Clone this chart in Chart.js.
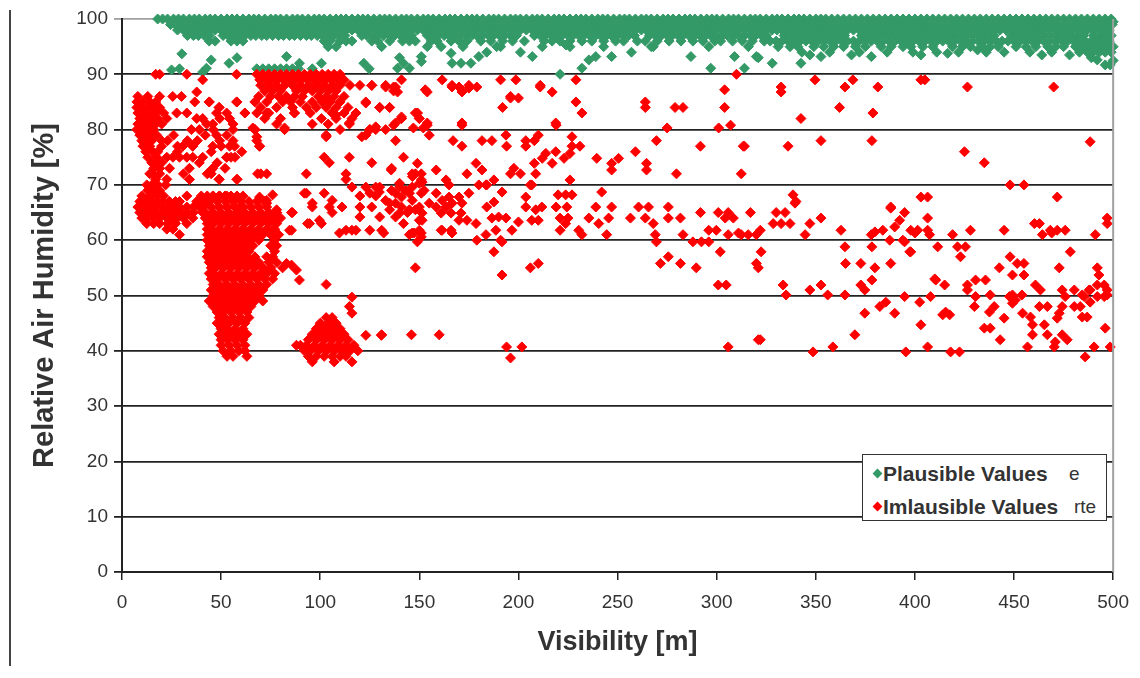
<!DOCTYPE html>
<html>
<head>
<meta charset="utf-8">
<script src="https://cdn.jsdelivr.net/npm/chart.js@4.4.1/dist/chart.umd.min.js"></script>
<style>
  body { margin: 0; background: #fff; }
  #wrap { position: relative; width: 1140px; height: 678px; }
  #leftRule { position: absolute; left: 9px; top: 10px; width: 2px; height: 656px; background: #444; }
  #legend { position: absolute; left: 862px; top: 454px; width: 243px; height: 65px; border: 1px solid #333; background: #fff;
            font-family: "Liberation Sans", Arial, sans-serif; color: #333; }
  #legend .row { position: absolute; left: 0; height: 24px; line-height: 24px; width: 100%; }
  #legend .mk { position: absolute; left: 11px; top: 8px; width: 7px; height: 7px; transform: rotate(45deg); }
  #legend b { position: absolute; left: 20px; font-size: 21px; }
  #legend .tail { position: absolute; font-size: 19px; }
</style>
</head>
<body>
<div id="wrap">
  <canvas id="humidity" width="1140" height="678"></canvas>
  <div id="leftRule"></div>
  <div id="legend">
    <div class="row" style="top:7px"><span class="mk" style="background:#339966"></span><b>Plausible Values</b><span class="tail" style="left:206px">e</span></div>
    <div class="row" style="top:40px"><span class="mk" style="background:#ff0000"></span><b>Imlausible Values</b><span class="tail" style="left:211px">rte</span></div>
  </div>
</div>
<script>
// visibility values (m) of plausible readings, one list per humidity level
const plausible100 = [18,20.5,23,26,28.5,31,34,36.5,39,42,44.5,47,50,53,55.5,58,61,64,66.5,69,72,75,77.5,80,83,86,88.5,91,94,97,99.5,102,105,108,110.5,113,116,119,121.5,124,127,130,132.5,135,138,141,143.5,146,149,152,154.5,157,160,163,165.5,168,171,174,176.5,179,182,185,187.5,190,193,196,198.5,201,204,207,209.5,212,215,218,220.5,223,226,229,231.5,234,237,240,242.5,245,248,251,253.5,256,259,262,264.5,267,270,273,275.5,278,281,284,286.5,289,292,295,297.5,300,303,306,308.5,311,314,317,319.5,322,325,328,330.5,333,336,339,341.5,344,347,350,352.5,355,358,361,364,367,370,373,376,379,382,385,388,391,394,397,400,403,406,409,412,415,418,421,424,427,430,433,436,439,442,445,448,451,454,457,460,463,466,469,472,475,478,481,484,487,490,493,496,499];
const plausible99 = [24.5,27,30,32.5,35.5,38,41,43.5,46,49,51.5,54.5,57,60,62.5,65.5,68,70.5,73.5,76,79,81.5,84.5,87,90,92.5,95.5,98,101,103.5,106.5,109,112,114.5,117.5,120,123,125.5,128.5,131,134,136.5,139.5,142,145,147.5,150.5,153,156,158.5,161.5,164,167,169.5,172.5,175,178,180.5,183.5,186,189,191.5,194.5,197,200,202.5,205.5,208,211,213.5,216.5,219,222,224.5,227.5,230,233,235.5,238.5,241,244,246.5,249.5,252,255,257.5,260.5,263,266,268.5,271.5,274,277,279.5,282.5,285,288,290.5,293.5,296,299,301.5,304.5,307,310,312.5,315.5,318,321,323.5,326.5,329,332,334.5,337.5,340,343,345.5,348.5,351,354,356.5,359.5,362,365,367.5,370.5,373,376,378.5,381.5,384,387,389.5,392.5,395,398,400.5,403.5,406,409,411.5,414.5,417,420,422.5,425.5,428,431,433.5,436.5,439,442,444.5,447.5,450,453,455.5,458.5,461,464,466.5,469.5,472,475,477.5,480.5,483,486,488.5,491.5,494,497,499.5];
const plausible98 = [28,31,33.5,36,39,42,44.5,47,50,53,55.5,58,61,64,66.5,69,72,75,77.5,80,83,86,88.5,91,94,97,99.5,102,105,108,110.5,113,116,119,121.5,124,127,130,132.5,135,138,141,143.5,146,149,152,154.5,157,160,163,165.5,168,171,174,176.5,179,182,185,187.5,190,193,196,198.5,201,204,207,209.5,212,215,218,220.5,223,226,229,231.5,234,237,240,242.5,245,248,251,253.5,256,259,262,264.5,267,270,273,275.5,278,281,284,286.5,289,292,295,297.5,300,303,306,308.5,311,314,317,319.5,322,325,328,330.5,333,336,339,341.5,344,347,350,352.5,355,358,361,363.5,366,369,372,374.5,377,380,383,385.5,388,391,394,396.5,399,402,405,407.5,410,413,416,418.5,421,424,427,429.5,432,435,438,440.5,443,446,449,451.5,454,457,460,462.5,465,468,471,473.5,476,479,482,484.5,487,490,493,495.5,498];
const plausible97 = [33,36,38.5,41.5,44,51,53.5,56.5,59,62,65,67.5,70.5,73,76,79,81.5,84.5,87,90,93,95.5,98.5,101,104,107,109.5,112.5,121,123.5,126.5,129,132,135,137.5,140.5,143,146,154,157,159.5,162.5,165,168,171,173.5,176.5,179,182,185,187.5,190.5,193,196,199,208,211,213.5,216.5,219,222,225,227.5,230.5,233,236,239,241.5,244.5,247,250,253,255.5,258.5,266,269,272,275,277.5,280.5,283,286,289,291.5,294.5,297,300,303,305.5,308.5,311,314,317,319.5,322.5,325,334,336.5,339.5,342,345,348,350.5,353.5,356,359,362,364.5,373,376,378.5,381.5,384,387,390,392.5,395.5,398,401,404,406.5,409.5,412,415,418,420.5,423.5,426,429,432,434.5,437.5,440,448.5,451,454,457,459.5,462.5,465,468,471,473.5,476.5,479,482,485,490,493,496,499];
const plausible96 = [44,47,55,58,61,102,105,110,113,116,126,129,135,141.5,145,148,156,159,166,170,174,181,186,192,197,203,213,217,221,226,232,237,243,249,253,260,264,270,276,282,288,293,299,302,308,313,318,324,327,330,333,336,339,342,345,348,351,354,357,360,363,366,369,372,375,378,381,384,387,390,393,396,399,402,405,408,411,414,417,420,423,426,429,432,435,438,441,444,447,450,453,456,459,462,465,468,471,474,477,480,483,486,489,492,495,498];
const plausible95 = [104,108,131,154,172,191,212,226,243,268,296,316,331,337,341,349,354,359,364,370,375,383,388,394,398,404,409,419,424,428,434,438,442,451,456,461,467,471,475,481,485,488,491,494,497,500];
const plausible94 = [343,357,372,386,399,411,422,436,445,458,469,483,487,490,493,496,499];
const plausibleLow = [[25,90.8],[29,91],[30.2,93.7],[40.7,90.4],[42.6,91.1],[45,92.6],[54,92],[58,93],[83,93.2],[89.5,92],[68,91],[71,91],[74,91],[77,91],[80,91],[83,91],[86,91],[89,91],[96,91],[100.6,92],[122,92],[124.7,91],[140,93],[139,91.1],[145,91.1],[142,92],[151,93.2],[151,92.3],[161,95],[166,93.8],[166.5,92],[171,92],[176,92],[180,93.2],[184,94],[189,95],[201,94],[207,93.2],[221,90],[224,95.3],[232,91.1],[235.5,92.6],[239,93.2],[247,93.2],[257,94],[267,95],[287,93.2],[297,91.1],[309,93.2],[314,91.1],[320,93.2],[321,93],[328,92],[342.5,92],[347,93.5],[352.6,93.2],[368,93.5],[378,93.2],[403,93.5],[416.5,93.8],[431.6,94.4],[464,93.5],[478,93.5],[489,93],[492,92.6],[496,91.7],[498.5,91.7],[500,92.5],[500,99.5]];

// implausible readings: dense clusters kept as humidity rows of visibility values
const leftClusterRows = [
  [86, [8,13,19,25.6,30]], [85, [7.5,10.5,14,17,36.7,44,57.8]], [84, [7.5,10,13,16,19,49]],
  [83, [8,11,14,17,21,27.6,32.7,47.7,52.8,62,73]], [82, [9,12,15,18,22.6,37.7,40.7,49.3,54.3]],
  [81, [8,11,14,17,20,42.7,45.8,56]], [80, [7.5,10,13,16,35,39,46,56,67]], [79, [9,12,15,17.5,26,42,47.7,52.8]],
  [78, [10,12.5,15,20,23,33,38,49.3,56,68]], [77, [10.6,14,20,28,30.7,35.7,45.8,50,54.3,56.8,69.4]],
  [76, [12,15.6,18,28,45,60.4]], [75, [13,17.5,22.6,25.7,29,32.7,35.7,40.7,52.8,55,57]],
  [74, [15,17.5,20,39,48]], [73, [16,19,24,34,45.8,52]], [72, [14,15.6,19,31,43,45]],
  [71, [17,22.6,34,49,58]], [70, [12.5,15,18,22]], [69, [13,16,19]],
  [68, [10,14,17.5,21,32.7,45.8,49.3,52.8]], [67, [9,12,15,18,20.6,24,27,29,37.7,42.7,56]],
  [66, [8,11,14,17,20,23,26,29,32.7,36,39,59.4]], [65, [9,12,15,17.5,21,24,27,30,33,36,40.7,57.8]],
  [64, [10,13,16,19,22.6,25,28,31,35.7]], [63, [12.5,16,19,23,27,32.7]], [62, [22.6,25.7]], [61, [29]]
];
const columnRows = [
  [68, [40,43,46,49,52,55,58,61]], [67, [40,44,48,52,56,60,64,68,72]], [66, [41,45,49,53,57,61,65,69,73]],
  [65, [42,46,50,54,58,62,66,70,74,78]], [64, [42,44,48,52,56,60,64,68,72,76,80]], [63, [43,46,50,54,58,62,66,70,74,78]],
  [62, [43,45,49,53,57,61,65,69,73,77]], [61, [43,47,51,55,59,63,67,71,75,79]], [60, [43,45,49,53,57,61,65,69,77]],
  [59, [44,47,51,55,59,63,66,75,78]], [58, [43,45,49,53,57,61,64,77]], [57, [43,47,51,55,59,63,67,73,76]],
  [56, [44,45,49,53,57,61,65,69,74,78]], [55, [45,47,51,55,59,63,67,71,75,81]], [54, [44,46,50,54,58,62,66,70,73,77]],
  [53, [45,48,52,56,60,64,68,72,76]], [52, [46,49,53,57,61,65,69,73]], [51, [45,48,51,55,59,63,67,71]],
  [50, [46,49,53,57,61,65,69]], [49, [44,47,51,55,59,63,67,71]], [48, [46,49,53,57,61,65]],
  [47, [48,51,55,59,63]], [46, [49,52,56,60,64]], [45, [48,51,54,58,62]], [44, [50,53,57,61]],
  [43, [49,52,55,59,63]], [42, [50,53,57,61]], [41, [50,54,58,62]], [40, [51,55,59,62]], [39, [53,56,63]]
];
const topBlockRows = [
  [90, [68,71,74,77,80,83,86,89,92,95,98,101,104,107,110]], [89, [69.5,72.5,75.5,78.5,81.5,84.5,87.5,90.5,93.5,96.5,99.5,102.5,105.5,108.5,112]],
  [88, [70,74,78,82,86,90,94,98,102,106,110,115,120,126,133]], [87, [72,76,80,88,92,96,100,104,108,137]],
  [86, [69,75,79,83,87,91,99,103,107,112]], [85, [67,73,81,85,90,96,101,105,110,123]],
  [84, [70,78,86,93,98,103,108,114,130,135]], [83, [68,74,87,95,106,112,118,149]],
  [82, [72,80,100.6,108,116,141,150]], [81, [78,96,104,114.7]], [80, [67,82,110,125,128,133]]
];
const blobRows = [
  [46, [103,106]], [45, [100,104,108]], [44, [98,102,106,110]], [43, [96,100,104,108,112]],
  [42, [94,98,102,106,110,114]], [41, [88,90,93,97,101,105,109,113,117]], [40, [92,95,99,103,107,111,115,119]],
  [39, [94,98,102,106,110,113]], [38, [96,107,116]]
];
// implausible readings: scattered points [visibility, humidity]
const implausibleNear = [[17,90],[19,90],[32.7,90],[40.7,89],[57.8,90],[37.7,86.8],[44,85],[58,85],[49,84],[62,83],[73,83],[67,80],[69.4,77],[70,72],[68.4,72],[73,72],[58,71],[49,71],[34,71],[35.7,77],[45,72.7],[52.8,75],[68,78.7],[66,80.3],[82,80.3],[73,67.2],[78,65.5],[76,68.2],[69.4,67.8],[73,66.7],[85.5,65],[85.5,61.8],[93,72],[92,68.5],[96,66.7],[99.6,63.6],[104.6,66],[106,67.2],[106,65],[113,61.8],[118,61.8],[102,75],[104.6,74],[114.7,75],[103,78.7],[121,78.7],[126,74],[128,69.6],[82,80],[103,79],[114.7,81.2],[108,82.6],[87,83],[123,84.8],[126,88],[130,84],[125,80],[123,79],[128,80.5],[138,81.2],[141,82.3],[137,87.7],[148,83],[153,87.2],[152,80.3],[113,72],[136,73],[148,72],[113,71],[116,69.6],[123,69.6],[130,69.6],[125,68.5],[120,68],[128,68],[140,70.3],[146.5,71.5],[150,70.3],[138,68.5],[145,68.5],[151,68.5],[93,68.5],[102,68.5],[96,66],[111,66],[120,66],[126,66],[135,66.7],[141,66],[148,65.5],[120,64.2],[130,64.2],[138,64.2],[150,63.6],[78,65],[86,65],[93.6,63],[100.6,63],[109.7,61.3],[116,61.8],[125,61.8],[132,61.3],[145,61],[151,61.3],[84.5,61.8],[76,61.8],[94.6,63],[83,55.8],[88,54.6],[89.5,52.8],[85.5,55.5],[103,52],[116,49.7],[114.7,48],[116,46.8],[123,42.8],[130.8,42.8]];
const implausibleMid = [[141,89],[161.5,89],[191,89],[198.7,89],[229,89],[310,90],[133,87.7],[138,87.7],[139,86.8],[154,86.8],[166.5,87.7],[170,87.7],[175,87.5],[179,87.7],[171.5,86.8],[211,87.7],[217,86.8],[304,87.2],[196,85.7],[200,85.7],[192,84],[229,85],[232,83],[264,85],[264,84],[279,84],[283,84],[304,84],[135,84],[149,83],[141,82],[150,82],[137,80.8],[147,80.3],[154,80.8],[171.5,80.8],[219,80.8],[275,80.3],[301,80.3],[307,80.8],[138,78],[155,79],[167,78],[171.5,77],[181.6,78],[186.6,78],[193.7,79],[194,77],[203.7,78],[203.7,77],[208,78],[210,79],[213.8,75.7],[218.8,76],[227,78.7],[227,77],[231,77],[226,75.7],[223,74.8],[212,74.8],[217,73.9],[208,73.9],[142,75],[149,73.9],[178.6,73.9],[181.6,72.7],[158.5,72.7],[174,72],[239.5,74.8],[247,73.9],[250.5,74.8],[247,72.7],[259,76],[264.6,73.9],[264.6,72.7],[269.6,78],[291.8,77],[314,77],[279.7,72],[312.4,72],[135.8,72.7],[146.4,72],[151,72],[151.4,70.5],[196,72],[197.7,73],[201,72],[208.7,72],[226,70.9],[206,70],[187.6,70.9],[184,70],[163.5,70.9],[165,70],[129.8,68.7],[136,69],[140,69.6],[143,69],[146.4,69.6],[151,70.9],[152.4,69],[133,67.2],[138,66.7],[141,67.8],[146.4,67.2],[150,66],[155,66.7],[135,65.5],[140,64.9],[145,65.5],[151.4,64.9],[142,63],[151.4,63.6],[131,61.8],[146.4,61.3],[151,60.6],[150,61.8],[158.5,68.5],[161.5,67.2],[165,67.8],[163.5,66],[166.5,66.7],[158.5,66],[170,67.8],[171.5,66.7],[161,64.9],[166,64.9],[171,64.9],[161.5,61.8],[166,61.8],[174,63.6],[178.6,63],[175,68.5],[180,70],[183.6,70],[184,66],[187.6,66.9],[191.7,68.7],[190,64.2],[186.6,64],[193.7,64],[188.6,61.8],[196.7,61.8],[200,63.3],[191,60],[179,60],[183.6,61],[170,63.6],[203.7,67.8],[206.7,70],[203.7,66],[208.7,65.5],[211.8,66],[206.7,63.6],[210,63.6],[220,68.2],[223.8,68.2],[227,68.2],[219,66],[224.4,66],[221,64],[225,64],[221,61.8],[223.8,63],[230.4,61.8],[232,61],[235.5,64],[239,66],[242,68.7],[240.5,63],[245.5,64],[247,66],[244.5,61],[256.5,64],[260.6,66],[264,64],[265.6,66],[268,63],[269,61],[269.6,59.7],[275.6,66],[275.6,64],[281.7,64],[283,61],[288,59.7],[291.8,65],[292.3,59.7],[296,59.7],[296,61.8],[299.8,61.8],[300.8,65],[305.8,65],[304.3,64],[308.4,64],[305.8,61],[312.4,61],[315.9,61],[317,65],[320,61],[301.8,57.9],[149,59.7],[161,61.8],[166.5,61.3],[147.4,61.3],[144,65],[187.6,57.9],[191.7,59.7],[191.7,53.7],[206,55],[210,55.8],[148,55],[271.6,55.8],[275.6,57],[281.7,55.8],[289.7,55],[300.8,51.9],[304.8,51.9],[320,55.8],[131,42.9],[146,42.9],[160,42.9],[194,40.7],[201.7,40.7],[196,38.7],[305.8,40.7],[321,42],[166.5,88],[175,88],[196,86],[211,88],[154,81.2],[171.5,81.2],[218.8,81.2]];
const implausibleFar = [[332.5,87.7],[332.5,86.8],[349.6,89],[364.7,87.7],[368.7,89],[381.3,87.7],[403,89],[405,89],[426.5,87.7],[470,87.7],[362,84],[342.5,82],[378.8,83],[313.4,77],[336,77],[352.6,78],[378.3,78],[425,76],[435,74],[488.4,77.8],[448,70],[455,70],[338.5,68.2],[340,67],[339.5,66.7],[387.8,66],[403,67.8],[406.4,67.8],[471.8,67.8],[330,65],[334.5,65],[328.5,63],[332.5,63],[337,63],[347,63],[352.6,64],[387.8,65.8],[394.8,65],[392.3,63.6],[406.4,64],[460.3,63],[462.8,63],[497,64],[497,63],[311,61.3],[322,61.8],[344.6,61],[362.7,61.8],[378,61],[379.8,61.5],[383.8,61.8],[389.8,62.4],[387.3,60],[393.9,60],[397.9,61.8],[401.4,61.8],[406.4,61.8],[400,61.3],[407.4,61],[419,61],[428,61.8],[445,61.8],[464.3,61],[468.3,61.8],[469,61.3],[471.8,61.8],[475.8,61.8],[491,61],[364.7,58.8],[322.4,57.9],[321,55],[365,55.8],[372.7,55.8],[379.8,55],[378.3,58.8],[387.8,55.8],[394.8,59.7],[397.9,57.9],[411.5,58.8],[421.5,58.8],[425.5,58.8],[423,57],[442.6,55],[448,57],[451.6,55.8],[455,55.8],[449.2,53.7],[455,53.7],[472.8,55],[478.4,57.9],[492,55],[492.8,53.7],[333.5,51.9],[335,50.1],[347,51],[352.6,51.9],[356,50.1],[364.7,50.1],[372.7,51.9],[374.7,51],[378.3,52.8],[410.5,52.8],[410,53],[415,51.9],[426.5,51.9],[426.5,51],[430.6,52.8],[435.6,52.8],[438,50.1],[449.2,50.1],[454,50.1],[460.8,51.9],[463.3,51],[474.3,51],[480.4,51],[488.4,51],[492,51.9],[495.5,51.9],[497,50.1],[484.4,50.1],[374.7,46.8],[382.3,48],[385.3,48.8],[389.8,46.8],[394.8,49.8],[402.4,48.8],[403,44.7],[407.9,49.8],[414,46.5],[417.5,46.5],[415.5,47],[430.6,49.8],[430,48],[440,48],[437.6,47],[435,44.1],[438,44.1],[443,42],[445,45.9],[447.7,49.8],[449.2,48.6],[450.7,49.2],[454.3,46.8],[458.3,46.1],[459.3,44.7],[459.3,42.9],[456.8,40.7],[462.8,48],[466.8,48],[465.3,44.7],[466.8,42.9],[475.8,49.8],[474.3,48],[472.8,46.8],[471.8,45.9],[470.3,40.7],[470.8,41.6],[474.3,42.9],[476.8,42],[480.4,48],[483.4,48],[484.4,46.1],[486.9,46.1],[485.4,49.8],[487.9,51],[488.4,48.8],[485.9,38.9],[490.4,40.7],[492,49.8],[495.5,49.8],[497,51],[496,44.1],[498.5,40.7],[322,42],[348.6,39.8],[358.6,40.7],[369.7,42.9],[395.4,39.8],[406.4,40.7],[418,39.8],[422.5,39.8],[397.4,57.9]];

const xTicks = [0,50,100,150,200,250,300,350,400,450,500];
const yTicks = [0,10,20,30,40,50,60,70,80,90,100];

const fontFamily = '"Liberation Sans", Arial, sans-serif';
const rowsToPoints = rows => rows.flatMap(([y, xs]) => xs.map(x => ({x: x, y: y})));
const pairsToPoints = pairs => pairs.map(([x, y]) => ({x: x, y: y}));

const plausiblePoints = rowsToPoints([
  [100, plausible100], [99, plausible99], [98, plausible98], [97, plausible97],
  [96, plausible96], [95, plausible95], [94, plausible94]
]).concat(pairsToPoints(plausibleLow));

const implausiblePoints = rowsToPoints(leftClusterRows)
  .concat(rowsToPoints(columnRows), rowsToPoints(topBlockRows), rowsToPoints(blobRows))
  .concat(pairsToPoints(implausibleNear), pairsToPoints(implausibleMid), pairsToPoints(implausibleFar));

const plotFrame = {
  id: 'plotFrame',
  afterDraw(chart) {
    const {ctx, chartArea} = chart;
    ctx.save();
    ctx.strokeStyle = '#a0a0a0';
    ctx.lineWidth = 2;
    ctx.beginPath();
    ctx.moveTo(chartArea.right, chartArea.top);
    ctx.lineTo(chartArea.right, chartArea.bottom);
    ctx.stroke();
    ctx.restore();
  }
};

let ctx = document.getElementById('humidity').getContext('2d');
let humidityChart = new Chart(ctx, {
  type: 'scatter',
  data: {
    datasets: [
      {
        label: 'Imlausible Values',
        data: implausiblePoints,
        backgroundColor: '#ff0000',
        borderColor: '#ff0000',
        order: 0,
        clip: false
      },
      {
        label: 'Plausible Values',
        data: plausiblePoints,
        backgroundColor: '#339966',
        borderColor: '#339966',
        order: 1,
        clip: false
      }
    ]
  },
  plugins: [plotFrame],
  options: {
    responsive: false,
    animation: false,
    devicePixelRatio: 1,
    layout: { padding: { top: 19, right: 24, bottom: 0, left: 0 } },
    elements: {
      point: { pointStyle: 'rectRot', radius: 5, borderWidth: 1, hoverRadius: 5 }
    },
    plugins: {
      legend: { display: false },
      tooltip: { enabled: false }
    },
    scales: {
      x: {
        type: 'linear',
        min: 0,
        max: 500,
        afterBuildTicks: s => { s.ticks = xTicks.map(v => ({value: v})); },
        afterFit: s => { s.height = 106; },
        ticks: { font: { family: fontFamily, size: 19 }, color: '#333', padding: 11, maxRotation: 0 },
        grid: { drawOnChartArea: false, tickLength: 8, color: '#222', lineWidth: 1.5 },
        border: { color: '#222', width: 2 },
        title: {
          display: true,
          text: 'Visibility [m]',
          color: '#333',
          font: { family: fontFamily, size: 27, weight: 'bold' },
          padding: { top: 0, bottom: 19 }
        }
      },
      y: {
        min: 0,
        max: 100,
        afterBuildTicks: s => { s.ticks = yTicks.map(v => ({value: v})); },
        afterFit: s => { s.width = 122; },
        ticks: { font: { family: fontFamily, size: 19 }, color: '#333', padding: 6 },
        grid: {
          tickLength: 8,
          lineWidth: 1.8,
          color: c => (c.tick && c.tick.value === 100) ? '#a0a0a0' : '#222'
        },
        border: { color: '#222', width: 2 },
        title: {
          display: true,
          text: 'Relative Air Humidity [%]',
          color: '#333',
          font: { family: fontFamily, size: 29, weight: 'bold' },
          padding: { top: 28, bottom: 0 }
        }
      }
    }
  }
});
</script>
</body>
</html>
